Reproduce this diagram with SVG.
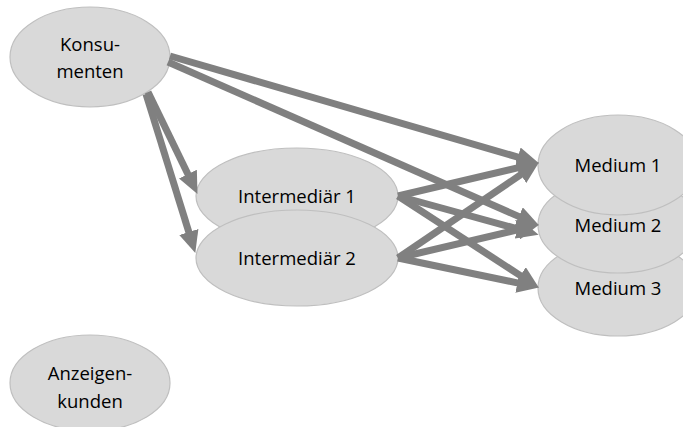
<svg xmlns="http://www.w3.org/2000/svg" width="683" height="427" viewBox="0 0 683 427">
  <defs>
    <marker id="ah" markerUnits="userSpaceOnUse" viewBox="0 0 22 20" markerWidth="22" markerHeight="20" refX="1" refY="10" orient="auto">
      <path d="M0,0 L22,10 L0,20 z" fill="#808080"/>
    </marker>
  </defs>
  <style>
    .n ellipse { fill: #d9d9d9; stroke: #bfbfbf; stroke-width: 1.2; }
    .n text { font-family: "Open Sans", "Liberation Sans", sans-serif; font-size: 18.5px; fill: #000; text-anchor: middle; }
    .c line { stroke: #808080; stroke-width: 7; marker-end: url(#ah); }
  </style>
  <rect width="683" height="427" fill="#ffffff"/>
  <g id="konsumenten" class="n">
    <ellipse cx="90" cy="57" rx="80" ry="50"/>
    <text x="90" y="51">Konsu-</text>
    <text x="90" y="78">menten</text>
  </g>
  <g id="intermediaer1" class="n">
    <ellipse cx="297" cy="196" rx="101" ry="48"/>
    <text x="297" y="203">Intermediär 1</text>
  </g>
  <g id="intermediaer2" class="n">
    <ellipse cx="297" cy="258" rx="101" ry="48"/>
    <text x="297" y="265">Intermediär 2</text>
  </g>
  <g id="medium3" class="n">
    <ellipse cx="618" cy="288" rx="80" ry="48"/>
    <text x="618" y="295">Medium 3</text>
  </g>
  <g id="medium2" class="n">
    <ellipse cx="618" cy="225" rx="80" ry="48"/>
    <text x="618" y="232">Medium 2</text>
  </g>
  <g id="medium1" class="n">
    <ellipse cx="618" cy="165" rx="80" ry="50"/>
    <text x="618" y="172">Medium 1</text>
  </g>
  <g id="anzeigenkunden" class="n">
    <ellipse cx="90" cy="383" rx="80" ry="48"/>
    <text x="90" y="380">Anzeigen-</text>
    <text x="90" y="408">kunden</text>
  </g>
  <g id="connectors" class="c">
    <line x1="170" y1="56" x2="518.8" y2="157.4"/>
    <line x1="168" y1="62" x2="519.7" y2="216.9"/>
    <line x1="148" y1="92" x2="188.3" y2="175"/>
    <line x1="146" y1="94" x2="189.1" y2="232.9"/>
    <line x1="398" y1="196" x2="518.5" y2="167.6"/>
    <line x1="398" y1="196" x2="518.4" y2="229.1"/>
    <line x1="398" y1="196" x2="521.2" y2="276.1"/>
    <line x1="398" y1="258" x2="521.5" y2="174.2"/>
    <line x1="398" y1="258" x2="518.5" y2="229.6"/>
    <line x1="398" y1="258" x2="518.4" y2="283.1"/>
  </g>
</svg>
